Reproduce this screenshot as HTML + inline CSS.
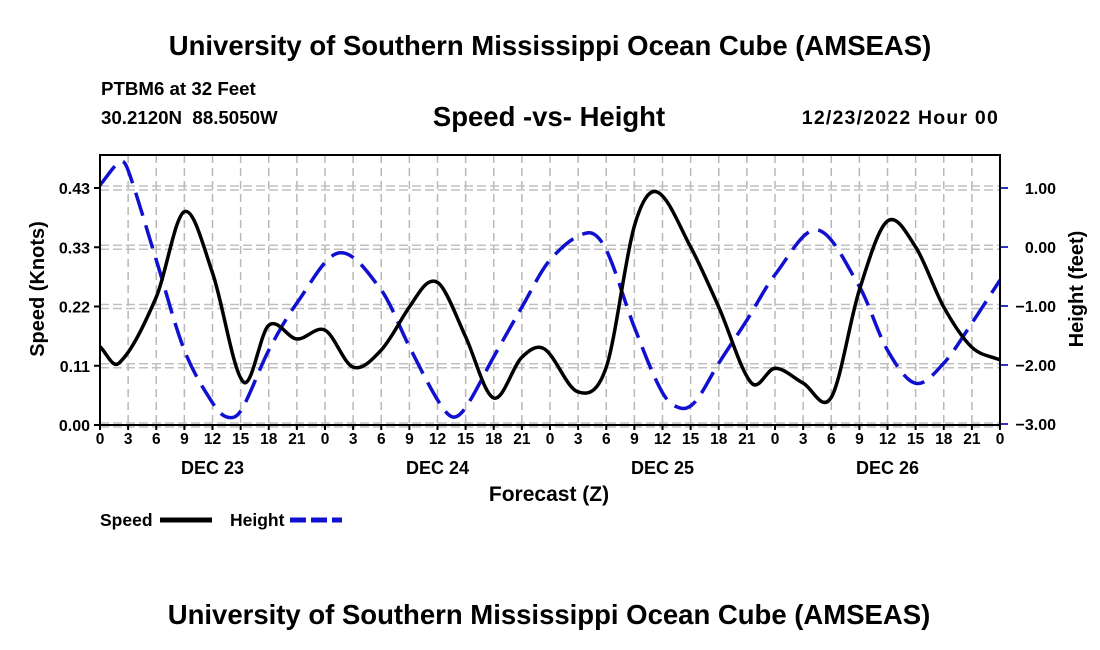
<!DOCTYPE html>
<html><head><meta charset="utf-8"><style>
body{margin:0;background:#fff;width:1100px;height:650px;overflow:hidden}
svg{display:block;font-family:"Liberation Sans",Arial,sans-serif;font-weight:bold}
</style></head><body>
<svg id="c" width="1100" height="650">
<text x="550" y="55" text-anchor="middle" font-size="27.5">University of Southern Mississippi Ocean Cube (AMSEAS)</text>
<text x="101" y="95" font-size="18.7">PTBM6 at 32 Feet</text>
<text x="101" y="124" font-size="18.7" xml:space="preserve">30.2120N  88.5050W</text>
<text x="549" y="126" text-anchor="middle" font-size="27.5">Speed -vs- Height</text>
<text x="999" y="124" text-anchor="end" font-size="19.5" letter-spacing="1.2">12/23/2022 Hour 00</text>
<text x="549" y="624" text-anchor="middle" font-size="27.5">University of Southern Mississippi Ocean Cube (AMSEAS)</text>
<g id="grid"></g><g id="series"></g><g id="axes"></g>
<text x="549" y="501" text-anchor="middle" font-size="21">Forecast (Z)</text>
<text transform="translate(44,289) rotate(-90)" text-anchor="middle" font-size="20">Speed (Knots)</text>
<text transform="translate(1083,289) rotate(-90)" text-anchor="middle" font-size="20">Height (feet)</text>
<g>
<text x="100" y="526" font-size="17.5">Speed</text>
<line x1="160" y1="520" x2="212" y2="520" stroke="#000" stroke-width="5"/>
<text x="230" y="526" font-size="17.5">Height</text>
<line x1="290" y1="520" x2="342" y2="520" stroke="#1010d0" stroke-width="5" stroke-dasharray="16,5"/>
</g>
</svg>
<script>
const speedHours=[0,2,6,9,12,15.3,18,21,24,27,30,33,35,36.5,39,42,45,47.4,51,54,57,59.4,63,66,69.5,72,75,78,81,84,87,90,93,96];
const speed=[0.142,0.112,0.232,0.387,0.276,0.078,0.181,0.156,0.172,0.105,0.136,0.214,0.258,0.25,0.16,0.049,0.123,0.138,0.06,0.105,0.361,0.423,0.323,0.214,0.076,0.103,0.076,0.05,0.245,0.37,0.323,0.214,0.141,0.118];
const heightHours=[0,2.2,3,6,9,12,13.5,15,18,21,25.5,30,33,36,37.6,39,42,45,48,52,54,57,60,61.9,63.5,66,69,72,76.5,81,84,87,90,93,96];
const height=[1.05,1.45,1.3,-0.22,-1.75,-2.64,-2.88,-2.78,-1.75,-0.95,-0.1,-0.73,-1.69,-2.59,-2.88,-2.72,-1.86,-1.02,-0.22,0.24,-0.05,-1.36,-2.47,-2.73,-2.62,-1.97,-1.24,-0.47,0.29,-0.67,-1.75,-2.31,-1.97,-1.29,-0.56];
const speedTicks=[0,0.1075,0.215,0.3225,0.43];
const speedLabels=["0.00","0.11","0.22","0.33","0.43"];
const heightTicks=[1,0,-1,-2,-3];
const heightLabels=["1.00","0.00","\u22121.00","\u22122.00","\u22123.00"];
const hourLabels=["0","3","6","9","12","15","18","21"];
const dayLabels=["DEC 23","DEC 24","DEC 25","DEC 26"];
const L=100,R=1000,T=155,B=425;
const xS=h=>L+h*(R-L)/96;
const yS=v=>B-v*(237/0.43);
const yH=v=>247-v*59;
const NS="http://www.w3.org/2000/svg";
function mk(tag,attrs,parent){const e=document.createElementNS(NS,tag);for(const k in attrs)e.setAttribute(k,attrs[k]);parent.appendChild(e);return e;}
const grid=document.getElementById('grid'),axes=document.getElementById('axes'),ser=document.getElementById('series');
for(let i=0;i<=32;i++){const x=xS(i*3);
 const g=mk('line',{x1:x,y1:T,x2:x,y2:B,stroke:'#b8b8b8','stroke-width':1.5,'stroke-dasharray':'8,5'},grid);
 
 const t=mk('line',{x1:x,y1:B,x2:x,y2:B+5,stroke:'#000','stroke-width':2},axes);
 
 const tx=mk('text',{x:x,y:B+19,'text-anchor':'middle','font-size':15.5},axes);
 tx.textContent=i===32?"0":hourLabels[i%8];
 }
dayLabels.forEach((d,i)=>{const t=mk('text',{x:xS(i*24+12),y:474,'text-anchor':'middle','font-size':18},axes);t.textContent=d;
 });
speedTicks.forEach((v,i)=>{const y=yS(v);
 [-2,2].forEach(o=>{const g=mk('line',{x1:L,y1:y+o,x2:R,y2:y+o,stroke:'#c0c0c0','stroke-width':1.5,'stroke-dasharray':'9,4'},grid);
 });
 const t=mk('line',{x1:L-6,y1:y,x2:L,y2:y,stroke:'#000','stroke-width':2},axes);
 const tx=mk('text',{x:L-10,y:y+6,'text-anchor':'end','font-size':16},axes);tx.textContent=speedLabels[i];
 });
heightTicks.forEach((v,i)=>{const y=yH(v);
 const t=mk('line',{x1:R,y1:y,x2:R+8,y2:y,stroke:'#3030c0','stroke-width':2},axes);
 const tx=mk('text',{x:R+56,y:y+6,'text-anchor':'end','font-size':16},axes);tx.textContent=heightLabels[i];
 });
const frame=mk('rect',{x:L,y:T,width:R-L,height:B-T,fill:'none',stroke:'#000','stroke-width':2},axes);

function path(hs,ys,fy){const p=hs.map((h,i)=>[xS(h),fy(ys[i])]);const n=p.length;
 const m=p.map((q,i)=>{const a=p[Math.max(0,i-1)],b=p[Math.min(n-1,i+1)];return (b[1]-a[1])/(b[0]-a[0]);});
 let d=`M${p[0][0]},${p[0][1]}`;
 for(let i=0;i<n-1;i++){const dx=(p[i+1][0]-p[i][0])/3;
 d+=` C${p[i][0]+dx},${p[i][1]+m[i]*dx} ${p[i+1][0]-dx},${p[i+1][1]-m[i+1]*dx} ${p[i+1][0]},${p[i+1][1]}`;}return d;}
const cp=mk('clipPath',{id:'clp'},ser);mk('rect',{x:L,y:T,width:R-L,height:B-T},cp);
const hp=mk('path',{d:path(heightHours,height,yH),fill:'none',stroke:'#1010d0','stroke-width':3.5,'stroke-dasharray':'24,10','clip-path':'url(#clp)'},ser);

const sp=mk('path',{d:path(speedHours,speed,yS),fill:'none',stroke:'#000','stroke-width':3.5,'clip-path':'url(#clp)'},ser);

</script>
</body></html>
